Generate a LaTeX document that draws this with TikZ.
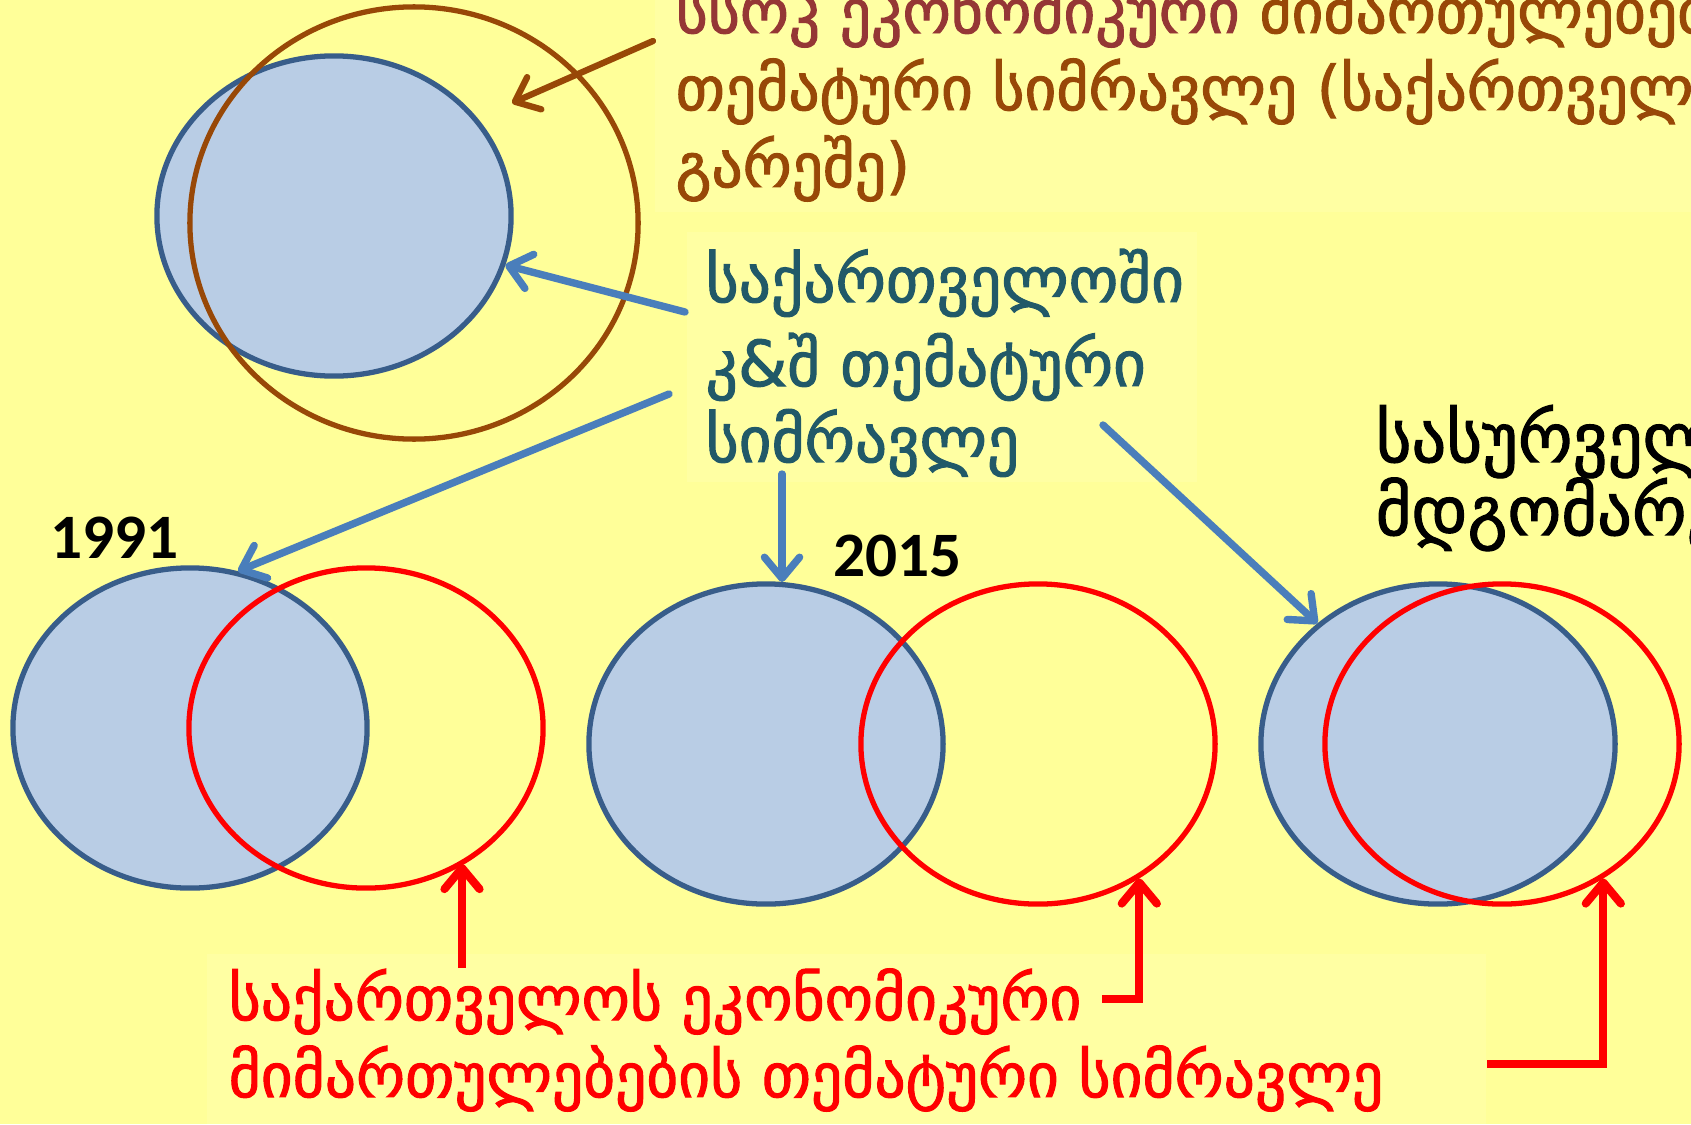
\documentclass[tikz,border=0pt]{standalone}
\usepackage{fontspec}
\newfontfamily\geofont[FakeBold=1.6]{DejaVu Sans}
\newfontfamily\numfont{Carlito}
\usetikzlibrary{shapes.geometric,arrows.meta,calc}
\definecolor{bgyellow}{RGB}{255,255,153}
\definecolor{boxyellow}{RGB}{255,255,163}
\definecolor{setblue}{RGB}{185,205,229}
\definecolor{setedge}{RGB}{56,93,138}
\definecolor{arrowblue}{RGB}{74,126,187}
\definecolor{labelteal}{RGB}{33,89,104}
\definecolor{ussrbrown}{RGB}{152,72,7}
\definecolor{ussrmaroon}{RGB}{149,55,53}
\definecolor{geored}{RGB}{255,0,0}
\tikzstyle{geoset}    = [ellipse, draw=setedge, fill=setblue, line width=1.5pt, minimum width=3.54cm, minimum height=3.2cm, inner sep=0pt]
\tikzstyle{ecoset}    = [ellipse, draw=geored, line width=1.5pt, minimum width=3.54cm, minimum height=3.2cm, inner sep=0pt]
\tikzstyle{ussrset}   = [ellipse, draw=ussrbrown, line width=1.5pt, minimum width=4.48cm, minimum height=4.32cm, inner sep=0pt]
\tikzstyle{labelbox}  = [fill=boxyellow]
\tikzstyle{txt}       = [anchor=base west, inner sep=0pt]
\tikzstyle{bluearrow} = [draw=arrowblue, line width=2.1pt, line cap=round, -{Straight Barb[length=6pt,width=10pt,round]}]
\tikzstyle{redarrow}  = [draw=geored, line width=2.3pt, -{Straight Barb[length=6pt,width=10pt,round]}]
\tikzstyle{brownarrow}= [draw=ussrbrown, line width=1.8pt, line cap=round, -{Straight Barb[length=6pt,width=10pt,round]}]

\begin{document}
\begin{tikzpicture}[x=0.01cm, y=-0.01cm]
	\useasboundingbox (0,0) rectangle (1691,1124);
	\clip (0,0) rectangle (1691,1124);
	\fill[bgyellow] (0,0) rectangle (1691,1124);
	\path[labelbox] (655,0) rectangle (1691,212);
	\path[labelbox] (687,232) rectangle (1197,482);
	\path[labelbox] (207,954) rectangle (1486,1124);

	\node[geoset] (geotop) at (334,216) {};
	\node[ussrset] (ussr) at (414,223) {};
	\node[geoset] (geoA) at (190,728) {};
	\node[ecoset] (ecoA) at (366,728) {};
	\node[geoset] (geoB) at (766,744) {};
	\node[ecoset] (ecoB) at (1038,744) {};
	\node[geoset] (geoC) at (1438,744) {};
	\node[ecoset] (ecoC) at (1502,744) {};

	\begin{scope}[font=\geofont\fontsize{17.5}{22}\selectfont]
		\node[txt] (ussrlabA) at (675,33) {\color{ussrmaroon}სსრკ ეკონომიკური \color{ussrbrown}მიმართულებების};
		\node[txt, text=ussrbrown] (ussrlabB) at (675,110) {თემატური სიმრავლე (საქართველოს};
		\node[txt, text=ussrbrown] (ussrlabC) at (675,187) {გარეშე)};
	\end{scope}
	\begin{scope}[font=\geofont\fontsize{18}{22}\selectfont, text=labelteal]
		\node[txt] (rklabA) at (705,302) {საქართველოში};
		\node[txt] (rklabB) at (705,386) {კ\&შ თემატური};
		\node[txt] (rklabC) at (705,462) {სიმრავლე};
	\end{scope}
	\begin{scope}[font=\geofont\fontsize{19.5}{22}\selectfont]
		\node[txt] (goalA) at (1375,462) {სასურველი};
		\node[txt] (goalB) at (1375,535) {მდგომარეობა};
	\end{scope}
	\begin{scope}[font=\geofont\fontsize{17.5}{20}\selectfont, text=geored]
		\node[txt] (ecolabA) at (228,1020) {საქართველოს ეკონომიკური};
		\node[txt] (ecolabB) at (228,1097) {მიმართულებების თემატური სიმრავლე};
	\end{scope}
	\node[txt, font=\numfont\bfseries\fontsize{18}{20}\selectfont] (yearA) at (50,558) {1991};
	\node[txt, font=\numfont\bfseries\fontsize{18}{20}\selectfont] (yearB) at (833,576) {2015};

	\coordinate (ussrfrom) at (653,41);
	\coordinate (ussrto) at (512,103);
	\coordinate (rkfromA) at (685,312);
	\coordinate (rkfromB) at (669,394);
	\coordinate (rkfromC) at (782,474);
	\coordinate (rkfromD) at (1103,425);
	\coordinate (ecofromA) at (462,968);
	\coordinate (ecofromB) at (1102,999);
	\coordinate (ecofromC) at (1487,1064);

	\draw[brownarrow] (ussrfrom) -- (ussrto);
	\draw[bluearrow] (rkfromA) -- (geotop.-16);
	\draw[bluearrow] (rkfromB) -- (geoA.73);
	\draw[bluearrow] (rkfromC) -- (rkfromC |- geoB.84);
	\draw[bluearrow] (rkfromD) -- (geoC.135);
	\draw[redarrow] (ecofromA) -- (ecofromA |- ecoA.-54);
	\draw[redarrow] (ecofromB) -| (ecoB.-53);
	\draw[redarrow] (ecofromC) -| (ecoC.-53);
\end{tikzpicture}
\end{document}
